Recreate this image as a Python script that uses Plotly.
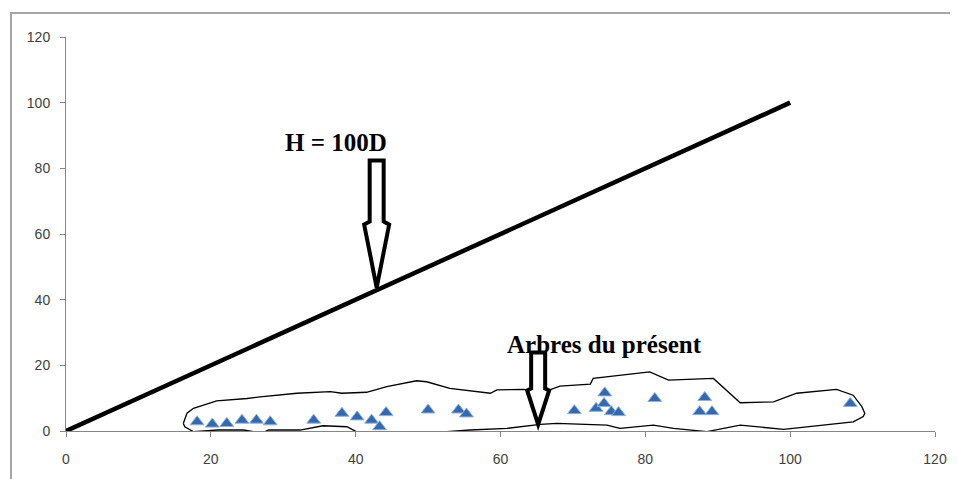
import plotly.graph_objects as go

# Data: trees of the present (diameter, height)
tree_d = [18.1, 20.2, 22.2, 24.3, 26.3, 28.2, 34.2, 38.1, 40.2, 42.2, 43.3, 44.2,
          50.0, 54.2, 55.3, 70.2, 74.4, 73.2, 74.3, 75.3, 76.3, 81.3, 88.2, 87.5, 89.2, 108.3]
tree_h = [2.8, 2.1, 2.3, 3.3, 3.3, 2.8, 3.3, 5.4, 4.3, 3.3, 1.3, 5.6,
          6.4, 6.4, 5.2, 6.2, 11.6, 6.9, 8.4, 5.9, 5.6, 9.9, 10.2, 5.9, 5.9, 8.4]

# Reference line H = 100D
line_d = [0, 100]
line_h = [0, 100]

# Hand-drawn outline around the present trees
outline_x = [16.2, 16.7, 17.6, 20.8, 25.0, 26.8, 31.9, 36.5, 38.1, 41.5, 44.3, 48.4, 49.8,
             53.0, 58.6, 59.5, 63.2, 65.5, 68.2, 72.4, 72.8, 78.8, 80.6, 83.2, 89.4, 93.1,
             97.7, 100.9, 106.4, 108.7, 109.9, 110.3, 110.1,
             108.7, 99.1, 93.1, 88.5, 83.9, 81.1, 76.5, 74.7, 67.8, 65.5, 60.9, 55.8,
             46.1, 43.4, 40.1, 38.8, 35.5, 32.3, 28.0, 27.0, 24.5, 21.0, 17.6, 16.4, 16.2]
outline_y = [2.3, 5.4, 6.9, 9.2, 9.9, 10.4, 11.5, 12.0, 11.5, 11.8, 13.5, 15.3, 15.0,
             13.0, 11.5, 12.5, 12.7, 11.5, 13.7, 14.3, 16.0, 17.5, 18.0, 15.5, 16.0, 8.6,
             8.9, 11.5, 12.7, 10.9, 7.4, 5.4, 4.4,
             2.8, 0.5, 1.8, -0.2, 0.8, 1.8, 0.8, 1.8, 2.3, 2.0, 0.8, 0.3,
             -1.2, -0.9, -0.2, 1.3, 1.6, 0.3, 0.3, -0.6, 0.3, 0.3, -0.2, 1.3, 2.3]

x_ticks = [0, 20, 40, 60, 80, 100, 120]
y_ticks = [0, 20, 40, 60, 80, 100, 120]

fig = go.Figure()

fig.add_trace(go.Scatter(x=outline_x, y=outline_y, mode="lines",
                         line=dict(color="black", width=1.3), hoverinfo="skip",
                         showlegend=False, cliponaxis=False))
fig.add_trace(go.Scatter(x=line_d, y=line_h, mode="lines",
                         line=dict(color="black", width=4.5), showlegend=False))
fig.add_trace(go.Scatter(x=tree_d, y=tree_h, mode="markers",
                         marker=dict(symbol="triangle-up", size=12, color="#3568AD",
                                     line=dict(color="#8DB0DD", width=1)),
                         showlegend=False, cliponaxis=False))

# Hollow arrows (pixel-sized paths anchored at their tips)
arrow1 = "M -7,127 L 7,127 L 7,66 L 12.5,63 L 0,0 L -12.5,63 L -7,66 Z"
arrow2 = "M -7,72 L 7,72 L 7,36 L 11,34 L 0,0 L -11,34 L -7,36 Z"
shapes = [
    dict(type="path", xref="x", yref="y", xsizemode="pixel", ysizemode="pixel",
         xanchor=42.9, yanchor=43.7, path=arrow1,
         line=dict(color="black", width=4), fillcolor="white", layer="above"),
    dict(type="path", xref="x", yref="y", xsizemode="pixel", ysizemode="pixel",
         xanchor=65.2, yanchor=2.0, path=arrow2,
         line=dict(color="black", width=4), fillcolor="white", layer="above"),
    dict(type="rect", xref="paper", yref="paper", x0=-0.0633, x1=1.2, y0=-0.3, y1=1.0609,
         line=dict(color="#A6A6A6", width=2), fillcolor="rgba(0,0,0,0)", layer="below"),
]

annotations = [
    dict(x=37.35, y=87.8, xref="x", yref="y", text="<b>H = 100D</b>", showarrow=False,
         font=dict(family="Liberation Serif", size=25, color="black")),
    dict(x=74.3, y=26.4, xref="x", yref="y", text="<b>Arbres du présent</b>", showarrow=False,
         font=dict(family="Liberation Serif", size=25, color="black")),
]

axis_common = dict(showgrid=False, zeroline=False, showline=True, linecolor="#868686",
                   linewidth=1, ticks="outside", ticklen=5, tickcolor="#868686",
                   tickfont=dict(family="Liberation Sans Narrow, Liberation Sans", size=14,
                                 color="#404040"))

fig.update_layout(
    width=950, height=471,
    margin=dict(l=58, r=23, t=29, b=48),
    paper_bgcolor="white", plot_bgcolor="white",
    xaxis=dict(range=[0, 120], tickvals=x_ticks, ticktext=[str(v) for v in x_ticks],
               ticklabelstandoff=10, **axis_common),
    yaxis=dict(range=[0, 120], tickvals=y_ticks, ticktext=[str(v) for v in y_ticks],
               ticklabelstandoff=7, **axis_common),
    shapes=shapes, annotations=annotations, showlegend=False,
)

fig.write_html("out.html")
